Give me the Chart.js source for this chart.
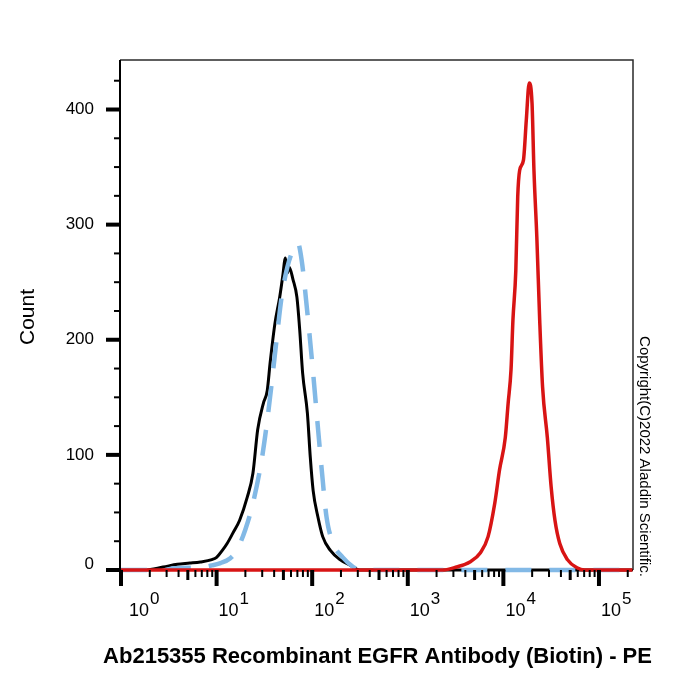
<!DOCTYPE html>
<html lang="en">
<head>
<meta charset="UTF-8" />
<title>Ab215355 Recombinant EGFR Antibody (Biotin) - PE</title>
<style>
  body {
    margin: 0;
    background: #fff;
  }
  canvas {
    display: block;
  }
</style>
</head>
<body>
<canvas id="flowChart" width="700" height="700"></canvas>

<script src="https://cdn.jsdelivr.net/npm/chart.js"></script>
<script>
  // Readings: x as log10 of the PE intensity, y as count
  const blackLogX = [0, 0.25, 0.44, 0.59, 0.72, 0.83, 0.95, 1.00, 1.06, 1.11, 1.17, 1.24, 1.32, 1.38, 1.43, 1.49, 1.53, 1.56, 1.61, 1.66, 1.69, 1.72, 1.74, 1.76, 1.80, 1.84, 1.87, 1.90, 1.95, 1.98, 2.01, 2.06, 2.11, 2.19, 2.29, 2.40, 2.50, 5.35];
  const blackCount = [0, 0, 2.6, 5, 6, 7, 9, 11, 17, 23, 32, 43, 63, 84, 122, 145, 156, 180, 214, 237, 254, 271, 258, 263, 252, 237, 208, 171, 136, 98, 69, 46, 29, 17, 9, 4, 0, 0];

  const blueLogX = [0, 0.45, 0.55, 0.85, 0.95, 1.04, 1.14, 1.21, 1.30, 1.38, 1.47, 1.53, 1.58, 1.63, 1.68, 1.74, 1.80, 1.85, 1.89, 1.95, 2.00, 2.05, 2.10, 2.15, 2.22, 2.32, 2.43, 2.50, 5.35];
  const blueCount = [0, 0, 1.5, 2.5, 4, 6, 10, 17, 35, 58, 95, 130, 165, 202, 237, 263, 278, 284, 269, 223, 180, 133, 87, 46, 23, 11, 2.6, 0, 0];

  const redLogX = [0, 3.37, 3.51, 3.65, 3.76, 3.84, 3.91, 3.96, 4.02, 4.05, 4.08, 4.10, 4.13, 4.15, 4.17, 4.21, 4.24, 4.27, 4.30, 4.32, 4.35, 4.38, 4.41, 4.46, 4.50, 4.54, 4.59, 4.67, 4.77, 4.85, 5.35];
  const redCount = [0, 0, 2.6, 7, 15, 29, 58, 87, 115, 145, 174, 217, 260, 324, 347, 356, 391, 423, 405, 347, 289, 217, 159, 115, 72, 43, 23, 9, 2, 0, 0];

  // axis labels
  const decades = [0, 1, 2, 3, 4, 5];
  const yLabels = [0, 100, 200, 300, 400];
  const xTitle = 'Ab215355 Recombinant EGFR Antibody (Biotin) - PE';
  const yTitle = 'Count';
  const copyright = 'Copyright(C)2022 Aladdin Scientific.';

  const FONT = "'Liberation Sans', Arial, sans-serif";

  function toPoints(logX, counts) {
    return logX.map((e, i) => ({ x: Math.pow(10, e), y: counts[i] }));
  }

  // frame, tick marks and all the text
  const flowAxes = {
    id: 'flowAxes',
    beforeDatasetsDraw(chart) {
      const { ctx, chartArea: a } = chart;
      ctx.save();
      ctx.strokeStyle = '#2a2a2a';
      ctx.lineWidth = 1.5;
      ctx.beginPath();
      ctx.moveTo(a.left, a.top);
      ctx.lineTo(a.right, a.top);
      ctx.lineTo(a.right, a.bottom);
      ctx.stroke();
      ctx.strokeStyle = '#000';
      ctx.lineWidth = 2;
      ctx.beginPath();
      ctx.moveTo(a.left, a.top);
      ctx.lineTo(a.left, a.bottom);
      ctx.lineTo(a.right, a.bottom);
      ctx.stroke();
      ctx.restore();
    },
    afterDraw(chart) {
      const { ctx, chartArea: a } = chart;
      const xs = chart.scales.x;
      const ys = chart.scales.y;
      ctx.save();
      ctx.strokeStyle = '#000';
      ctx.fillStyle = '#000';

      // x ticks: decades long, fives medium, rest short
      for (const d of decades) {
        for (let m = 1; m <= 9; m++) {
          const v = m * Math.pow(10, d);
          if (v > xs.max) break;
          const px = xs.getPixelForValue(v);
          let len = 7, w = 2;
          if (m === 1) { len = 16; w = 4; }
          else if (m === 5) { len = 10; w = 3; }
          ctx.lineWidth = w;
          ctx.beginPath();
          ctx.moveTo(px, a.bottom);
          ctx.lineTo(px, a.bottom + len);
          ctx.stroke();
        }
      }

      // y ticks every 25
      for (let v = 0; v <= ys.max; v += 25) {
        const py = ys.getPixelForValue(v);
        const major = v % 100 === 0;
        ctx.lineWidth = major ? 4 : 2;
        ctx.beginPath();
        ctx.moveTo(a.left, py);
        ctx.lineTo(a.left - (major ? 14 : 6), py);
        ctx.stroke();
      }

      // y labels
      ctx.font = '17px ' + FONT;
      ctx.textAlign = 'right';
      ctx.textBaseline = 'middle';
      yLabels.forEach(v => {
        const py = ys.getPixelForValue(v) - (v === 0 ? 6 : 0);
        ctx.fillText(String(v), 94, py);
      });

      // x labels 10^n
      ctx.textAlign = 'left';
      ctx.textBaseline = 'alphabetic';
      decades.forEach(d => {
        const px = xs.getPixelForValue(Math.pow(10, d)) + (d === 0 ? 8 : 2);
        ctx.font = '18px ' + FONT;
        ctx.fillText('10', px, 616);
        const w = ctx.measureText('10').width;
        ctx.font = '17px ' + FONT;
        ctx.fillText(String(d), px + w + 1, 604);
      });

      // axis titles
      ctx.font = 'bold 22px ' + FONT;
      ctx.textAlign = 'center';
      ctx.fillText(xTitle, (a.left + a.right) / 2 + 1, 663);

      ctx.save();
      ctx.translate(28, 317);
      ctx.rotate(-Math.PI / 2);
      ctx.font = '21px ' + FONT;
      ctx.textBaseline = 'middle';
      ctx.fillText(yTitle, 0, 0);
      ctx.restore();

      ctx.save();
      ctx.translate(640, 577);
      ctx.rotate(Math.PI / 2);
      ctx.font = '15px ' + FONT;
      ctx.textAlign = 'right';
      ctx.textBaseline = 'alphabetic';
      ctx.fillText(copyright, 0, 0);
      ctx.restore();

      ctx.restore();
    }
  };

  const ctx = document.getElementById('flowChart').getContext('2d');
  const chart = new Chart(ctx, {
    type: 'line',
    data: {
      datasets: [
        {
          label: 'Control',
          data: toPoints(blackLogX, blackCount),
          borderColor: '#000',
          borderWidth: 3,
          order: 3
        },
        {
          label: 'Isotype',
          data: toPoints(blueLogX, blueCount),
          borderColor: '#82b9e6',
          borderWidth: 4.5,
          borderDash: [26, 18],
          order: 2
        },
        {
          label: 'EGFR',
          data: toPoints(redLogX, redCount),
          borderColor: '#d81414',
          borderWidth: 3.5,
          order: 1
        }
      ]
    },
    options: {
      responsive: false,
      animation: false,
      layout: {
        padding: { left: 120, top: 60, right: 67, bottom: 130 }
      },
      datasets: {
        line: {
          fill: false,
          pointRadius: 0,
          cubicInterpolationMode: 'monotone',
          clip: { left: 0, top: 0, right: 0, bottom: 6 }
        }
      },
      scales: {
        x: {
          type: 'logarithmic',
          display: false,
          min: 0.976,
          max: 227000
        },
        y: {
          type: 'linear',
          display: false,
          min: 0,
          max: 443
        }
      },
      plugins: {
        legend: { display: false },
        tooltip: { enabled: false }
      }
    },
    plugins: [flowAxes]
  });
</script>
</body>
</html>
